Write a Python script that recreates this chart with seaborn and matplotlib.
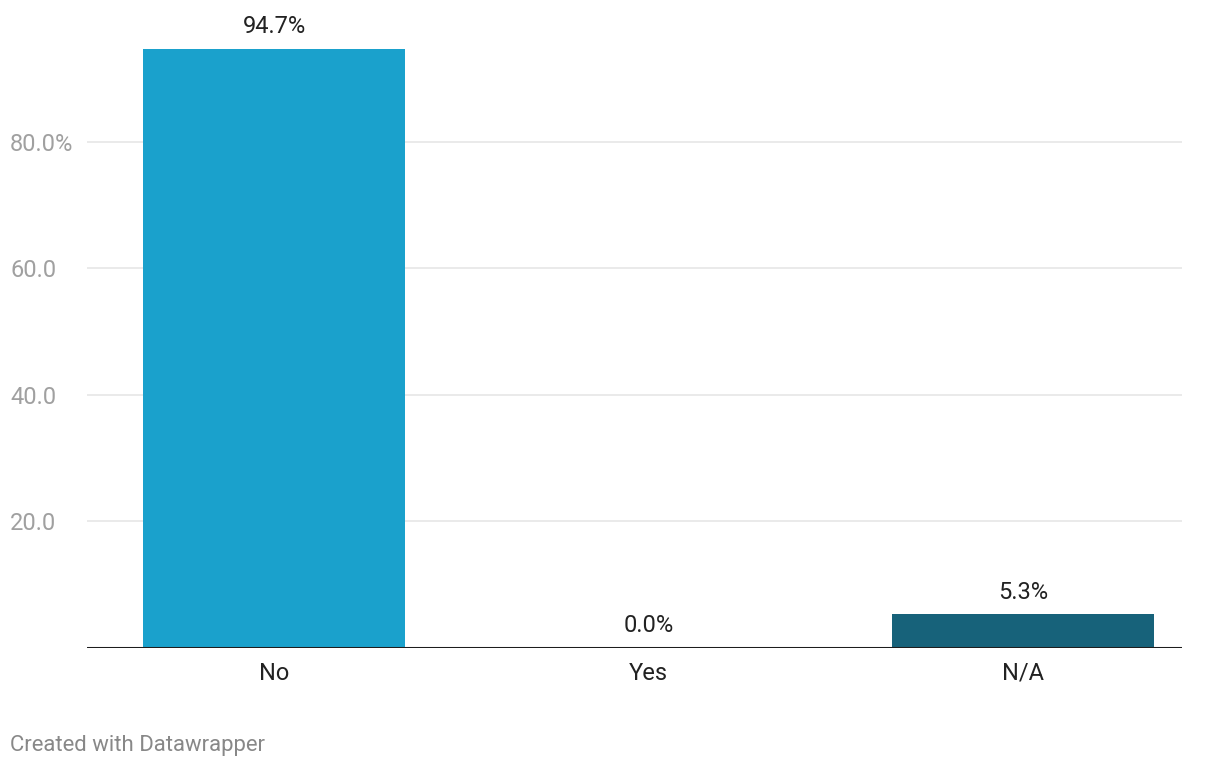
import matplotlib
matplotlib.use("Agg")
import matplotlib.pyplot as plt
import matplotlib.transforms as mtransforms
import seaborn as sns
import pandas as pd

categories = ["No", "Yes", "N/A"]
values = [94.7, 0.0, 5.3]
value_labels = ["94.7%", "0.0%", "5.3%"]
colors = ["#1aa1cc", "#1aa1cc", "#17627a"]
yticks = [20, 40, 60, 80]
ytick_labels = ["20.0", "40.0", "60.0", "80.0%"]

sns.set_theme(style="white")
plt.rcParams['font.family'] = ['Roboto', 'DejaVu Sans']

W, H = 1220, 768
fig = plt.figure(figsize=(W / 100, H / 100), dpi=100)
ax = fig.add_axes([87 / W, 1 - 648 / H, (1182 - 87) / W, (648 - 30) / H])

df = pd.DataFrame({"cat": categories, "val": values})
sns.barplot(data=df, x="cat", y="val", hue="cat", palette=colors, width=0.7,
            ax=ax, legend=False, saturation=1, linewidth=0)

ax.set_ylim(0, 97.7)
ax.set_xlim(-0.5, 2.425)

for y in yticks:
    ax.axhline(y, color="#e6e6e6", lw=1.2, zorder=0)
ax.axhline(0, color="#1d1d1d", lw=2.2, zorder=5)

for s in ax.spines.values():
    s.set_visible(False)
ax.set_yticks([])
ax.set_xlabel("")
ax.set_ylabel("")
ax.tick_params(axis="x", length=0, pad=10, labelsize=17, labelcolor="#222222")

trans = mtransforms.blended_transform_factory(fig.transFigure, ax.transData)
for y, lab in zip(yticks, ytick_labels):
    ax.text(10 / W, y, lab, transform=trans, ha="left", va="center_baseline",
            fontsize=17, color="#a0a0a0")

for i, (v, lab) in enumerate(zip(values, value_labels)):
    ax.text(i, v + 1.7, lab, ha="center", va="bottom", fontsize=17, color="#222222")

fig.text(10 / W, 1 - 745 / H, "Created with Datawrapper", ha="left", va="center",
         fontsize=15.9, color="#888888")

fig.savefig("out.png", dpi=100, facecolor="white")
